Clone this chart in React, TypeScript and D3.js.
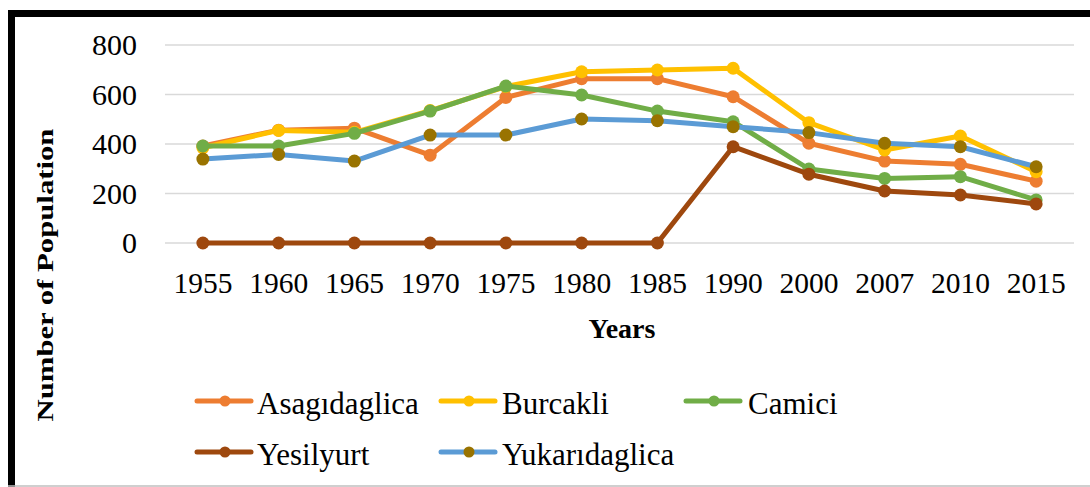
import React from "react";
import * as d3 from "d3";

const years = ["1955", "1960", "1965", "1970", "1975", "1980", "1985", "1990", "2000", "2007", "2010", "2015"];
const asagidaglica = [392, 456, 464, 355, 588, 664, 664, 591, 403, 331, 318, 250];
const burcakli = [385, 455, 447, 535, 632, 692, 699, 706, 486, 376, 432, 288];
const camici = [392, 392, 443, 533, 634, 598, 533, 490, 299, 261, 268, 174];
const yesilyurt = [0, 0, 0, 0, 0, 0, 0, 389, 278, 210, 194, 158];
const yukaridaglica = [339, 358, 331, 436, 436, 501, 494, 470, 446, 403, 389, 308];
const yTicks = [0, 200, 400, 600, 800];

const series = [
  { name: "Asagıdaglica", values: asagidaglica, color: "#ED7D31", marker: "#ED7D31" },
  { name: "Burcakli", values: burcakli, color: "#FFC000", marker: "#FFC000" },
  { name: "Camici", values: camici, color: "#70AD47", marker: "#70AD47" },
  { name: "Yesilyurt", values: yesilyurt, color: "#9E480E", marker: "#9E480E" },
  { name: "Yukarıdaglica", values: yukaridaglica, color: "#5B9BD5", marker: "#997300" },
];

const W = 1090;
const H = 487;
const plot = { left: 165, right: 1074, top: 45, bottom: 243 };
const tf = { fontFamily: "Liberation Serif" };

export default function App() {
  const x = d3.scalePoint<string>().domain(years).range([plot.left, plot.right]).padding(0.5);
  const y = d3.scaleLinear().domain([0, 800]).range([plot.bottom, plot.top]);
  const line = d3
    .line<number>()
    .x((_, i) => x(years[i]) as number)
    .y((d) => y(d));

  const legendItems = [
    { s: series[0], lx: 197, ly: 401, tx: 257, ty: 414 },
    { s: series[1], lx: 441, ly: 401, tx: 502, ty: 414 },
    { s: series[2], lx: 686, ly: 401, tx: 748, ty: 414 },
    { s: series[3], lx: 197, ly: 452, tx: 257, ty: 465 },
    { s: series[4], lx: 441, ly: 452, tx: 502, ty: 465 },
  ];

  return (
    <svg width={W} height={H} style={{ position: "absolute", left: 0, top: 0, background: "#fff" }}>
      <rect x={0} y={0} width={W} height={H} fill="#fff" />
      <line x1={8} x2={W} y1={13.5} y2={13.5} stroke="#000" strokeWidth={7} />
      <line x1={11.5} x2={11.5} y1={10} y2={H} stroke="#000" strokeWidth={7} />
      <line x1={8} x2={W} y1={486} y2={486} stroke="#bfbfbf" strokeWidth={1.5} />

      {yTicks.map((t) => (
        <line key={t} x1={plot.left} x2={plot.right} y1={y(t)} y2={y(t)} stroke="#d9d9d9" strokeWidth={1.5} />
      ))}
      {yTicks.map((t) => (
        <text key={t} x={137} y={y(t) + 10} textAnchor="end" fontSize={30} style={tf}>
          {t}
        </text>
      ))}
      {years.map((yr) => (
        <text key={yr} x={x(yr)} y={293} textAnchor="middle" fontSize={29.5} style={tf}>
          {yr}
        </text>
      ))}

      <text x={622} y={338} textAnchor="middle" fontSize={28} fontWeight="bold" style={tf}>
        Years
      </text>
      <text
        transform="translate(53,275) rotate(-90) scale(1.28,1)"
        textAnchor="middle"
        fontSize={24}
        fontWeight="bold"
        style={tf}
      >
        Number of Population
      </text>

      {series.map((s) => (
        <g key={s.name}>
          <path d={line(s.values) as string} fill="none" stroke={s.color} strokeWidth={5} strokeLinejoin="round" />
          {s.values.map((v, i) => (
            <circle key={i} cx={x(years[i]) as number} cy={y(v)} r={6.5} fill={s.marker} />
          ))}
        </g>
      ))}

      {legendItems.map(({ s, lx, ly, tx, ty }) => (
        <g key={s.name}>
          <line x1={lx} x2={lx + 54} y1={ly} y2={ly} stroke={s.color} strokeWidth={5} strokeLinecap="round" />
          <circle cx={lx + 28} cy={ly} r={5.5} fill={s.marker} />
          <text x={tx} y={ty} fontSize={31} style={tf}>
            {s.name}
          </text>
        </g>
      ))}
    </svg>
  );
}
